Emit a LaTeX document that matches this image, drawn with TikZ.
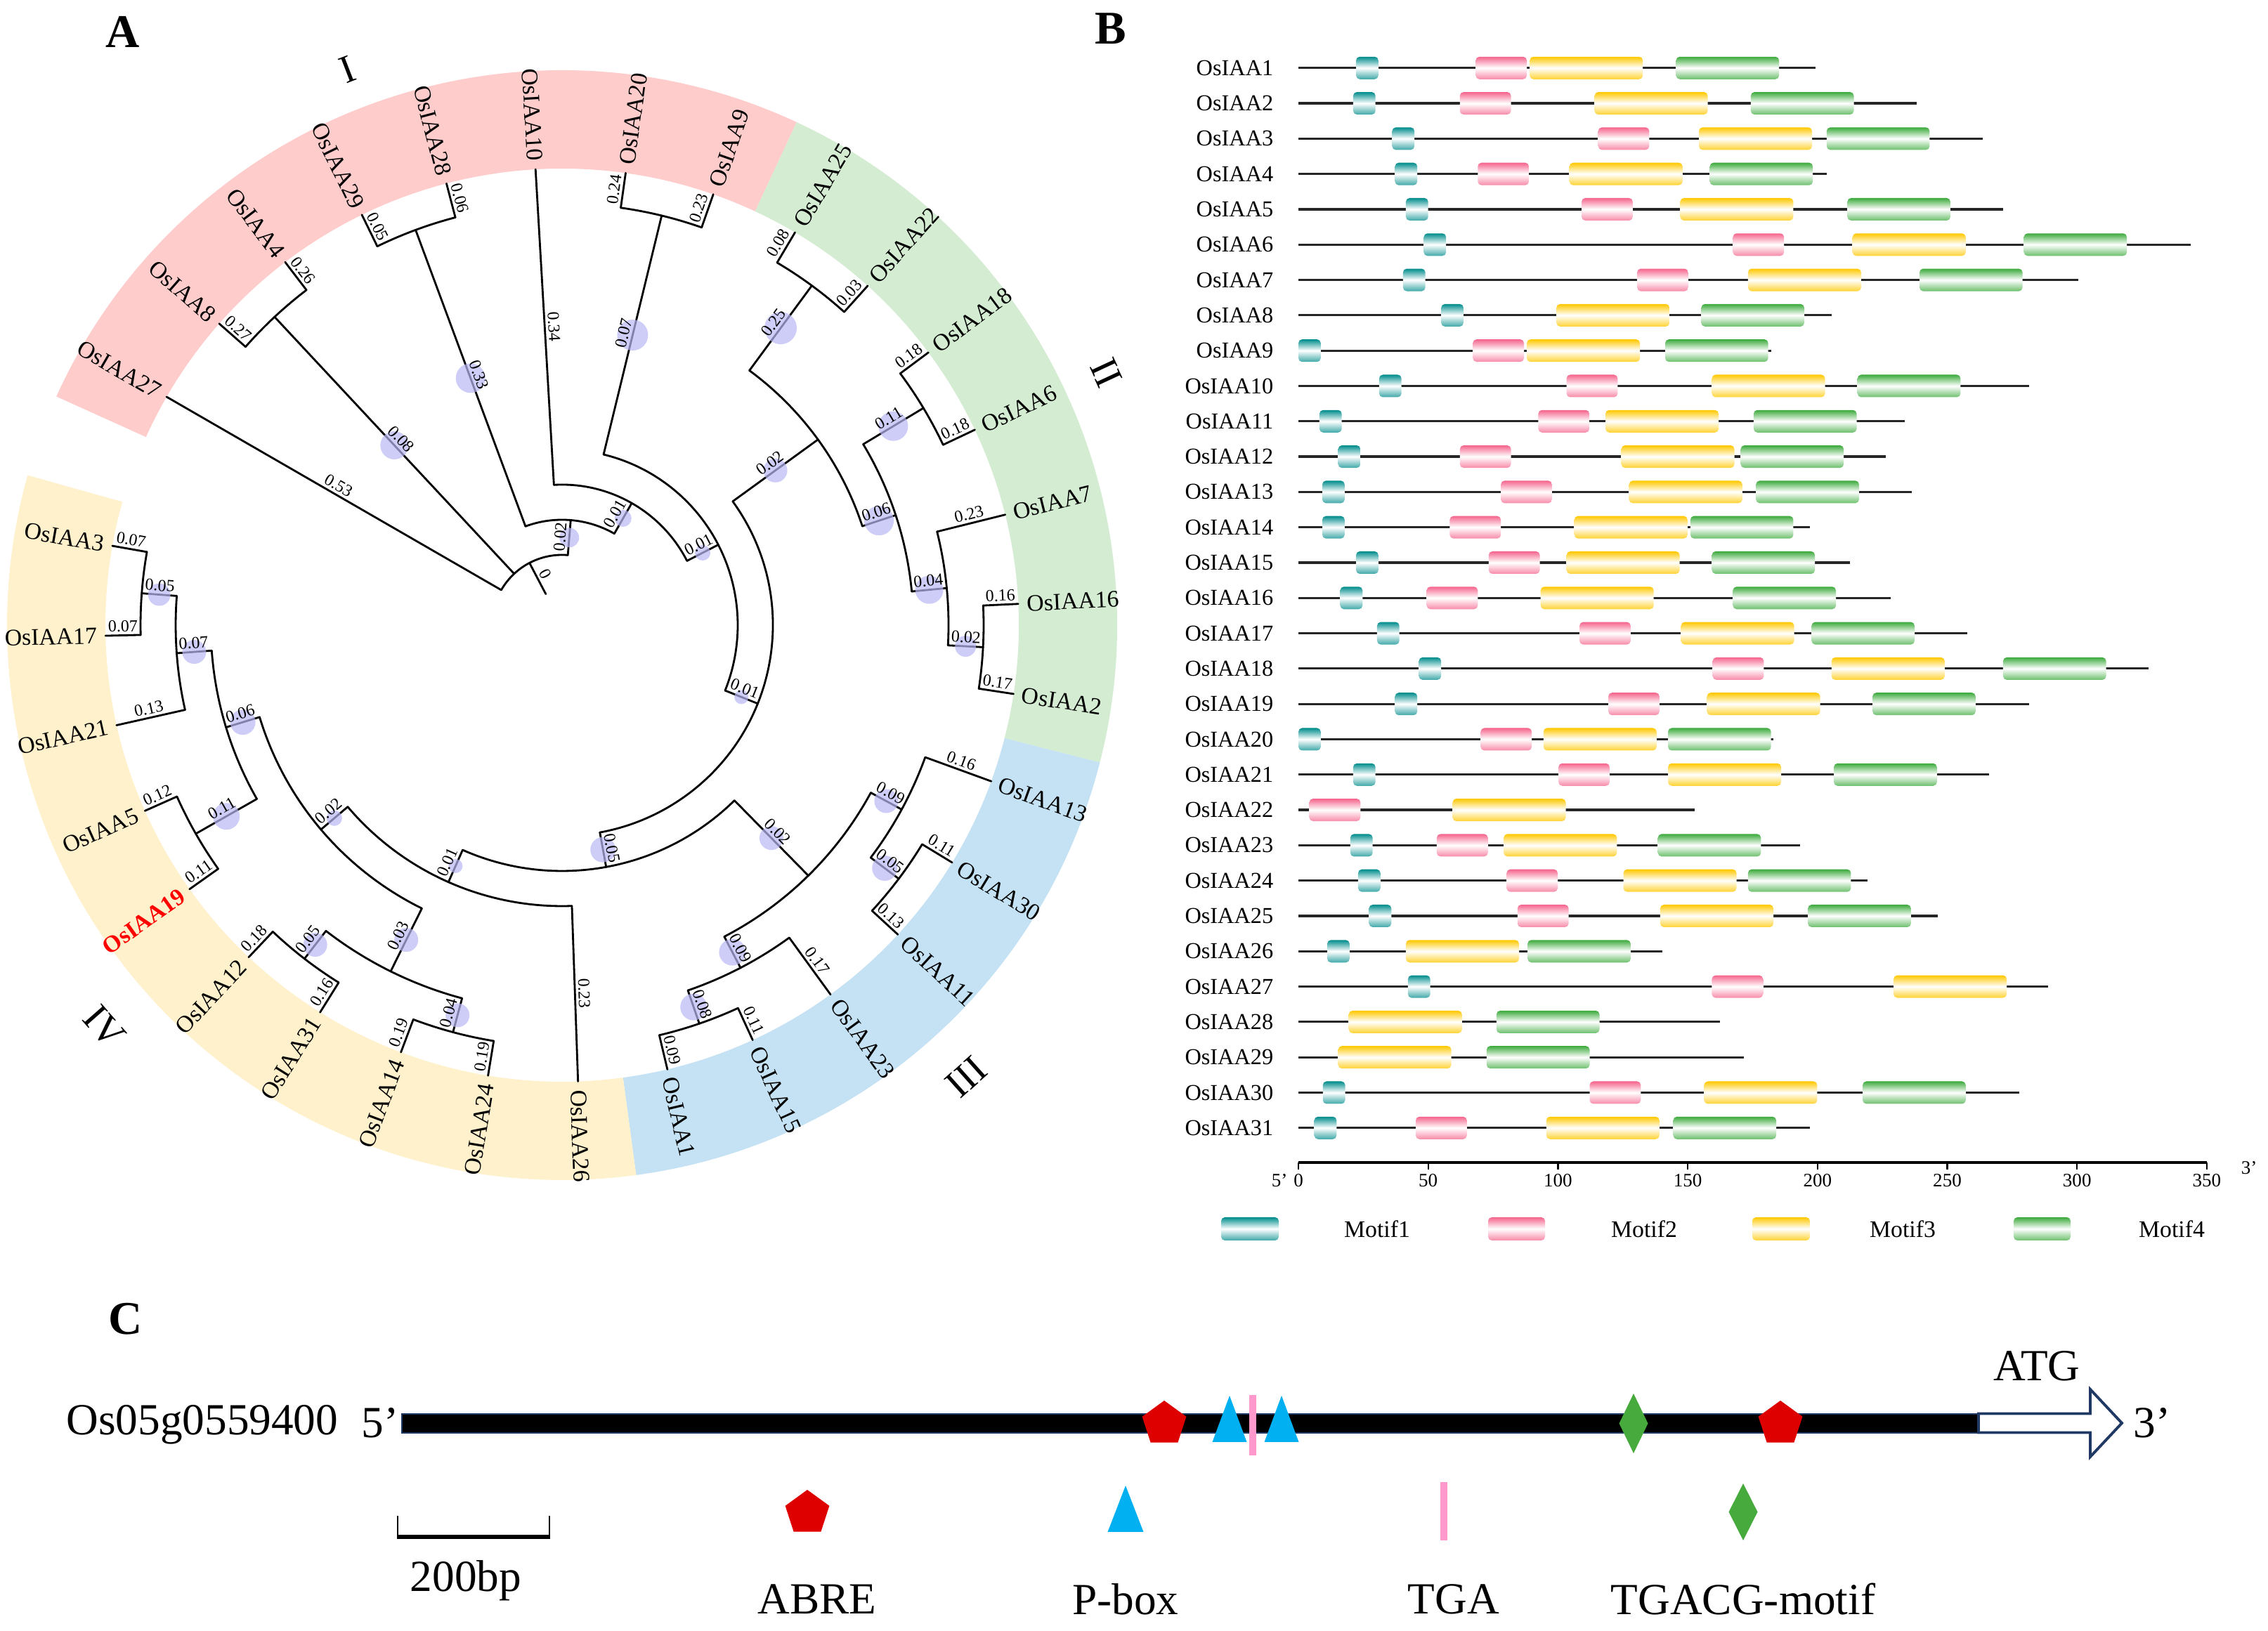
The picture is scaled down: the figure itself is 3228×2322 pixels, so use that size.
\documentclass[tikz,border=0pt]{standalone}
\usepackage{fontspec}
\setmainfont{Liberation Serif}
\usetikzlibrary{shapes.geometric}
\definecolor{bandI}{RGB}{255,204,204}
\definecolor{bandII}{RGB}{212,236,210}
\definecolor{bandIII}{RGB}{197,226,244}
\definecolor{bandIV}{RGB}{255,241,204}
\definecolor{circC}{RGB}{185,185,245}
\definecolor{cA}{RGB}{0,140,140}
\definecolor{cB}{RGB}{245,100,140}
\definecolor{cC}{RGB}{255,200,0}
\definecolor{cD}{RGB}{60,170,60}
\definecolor{redC}{RGB}{222,0,0}
\definecolor{cyanC}{RGB}{0,176,240}
\definecolor{pinkC}{RGB}{255,153,204}
\definecolor{greenC}{RGB}{70,170,60}
\definecolor{navyC}{RGB}{31,56,100}
\newcommand{\fsLeaf}{\fontsize{9.6}{11}\selectfont}
\newcommand{\fsBr}{\fontsize{6.8}{8}\selectfont}
\newcommand{\fsRow}{\fontsize{9.2}{10}\selectfont}
\newcommand{\fsLg}{\fontsize{9.6}{11}\selectfont}
\newcommand{\fsAx}{\fontsize{7.7}{9}\selectfont}
\newcommand{\fsCC}{\fontsize{18}{21}\selectfont}
\newcommand{\fsPan}{\fontsize{19}{22}\selectfont\bfseries}
\newcommand{\fsRom}{\fontsize{16}{19}\selectfont}
\def\brlist{100/150/650/0.53/0, 100/133/600/0.08/20, 100/85.309/150/0.02/14,%
600/138.667/650/0.27/0, 600/127.333/650/0.26/0,%
150/110.333/600/0.33/21, 150/60.285/200/0.01/12,%
600/116/650/0.05/0, 600/104.667/650/0.06/0,%
200/93.333/650/0.34/0, 200/27.237/250/0.01/11,%
250/76.333/600/0.07/22, 250/-21.859/300/0.01/10,%
600/82/650/0.24/0, 600/70.667/650/0.23/0,%
300/35.958/450/0.02/17, 300/-79.677/350/0.05/18,%
450/53.667/600/0.25/23, 450/18.25/500/0.06/21,%
600/59.333/650/0.08/0, 600/48/650/0.03/0,%
500/31/600/0.11/21, 500/5.5/550/0.04/20,%
600/36.667/650/0.18/0, 600/25.333/650/0.18/0,%
550/14/650/0.23/0, 550/-3/600/0.02/15,%
600/2.667/650/0.16/0, 600/-8.667/650/0.17/0,%
350/-45.5/500/0.02/17, 350/-113.854/400/0.01/10,%
500/-28.5/550/0.09/17, 500/-62.5/550/0.09/19,%
550/-20/650/0.16/0, 550/-37/600/0.05/18,%
600/-31.333/650/0.11/0, 600/-42.667/650/0.13/0,%
550/-54/650/0.17/0, 550/-71/600/0.08/19,%
600/-65.333/650/0.11/0, 600/-76.667/650/0.09/0,%
400/-88/650/0.23/0, 400/-139.708/450/0.02/11,%
450/-116.333/550/0.03/17, 450/-163.083/500/0.06/18,%
550/-105/600/0.04/17, 550/-127.667/600/0.05/17,%
600/-99.333/650/0.19/0, 600/-110.667/650/0.19/0,%
600/-122/650/0.16/0, 600/-133.333/650/0.18/0,%
500/-150.333/600/0.11/19, 500/-175.833/550/0.07/17,%
600/-144.667/650/0.11/0, 600/-156/650/0.12/0,%
550/-167.333/650/0.13/0, 550/-184.333/600/0.05/16,%
600/-178.667/650/0.07/0, 600/-190/650/0.07/0,%
50/117.655/100/0/0}
\def\arclist{100/150/85.309, 150/110.333/60.285, 200/93.333/27.237, 250/76.333/-21.859,%
300/35.958/-79.677, 350/-45.5/-113.854, 400/-88/-139.708, 450/-116.333/-163.083,%
500/-150.333/-175.833, 550/-167.333/-184.333, 600/-178.667/-190, 600/-144.667/-156,%
550/-105/-127.667, 600/-122/-133.333, 600/-99.333/-110.667, 500/-28.5/-62.5,%
550/-20/-37, 600/-31.333/-42.667, 550/-54/-71, 600/-65.333/-76.667,%
450/53.667/18.25, 600/59.333/48, 500/31/5.5, 600/36.667/25.333, 550/14/-3,%
600/2.667/-8.667, 600/82/70.667, 600/116/104.667, 600/138.667/127.333}
\begin{document}
\begin{tikzpicture}[x=0.01cm,y=0.01cm,
  br/.style={line width=0.8pt, black, line cap=round},
  blab/.style={midway, sloped, above, inner sep=1.2pt, font=\fsBr},
  circ/.style={fill=circC, fill opacity=0.7},
  leaf/.style={font=\fsLeaf, inner sep=1pt},
  rom/.style={font=\fsRom},
  pan/.style={font=\fsPan},
  rlab/.style={anchor=east, font=\fsRow, inner sep=0pt},
  bline/.style={line width=0.9pt, black!85},
  mA/.style={top color=cA, bottom color=cA!75, middle color=white, rounded corners=1.5pt},
  mB/.style={top color=cB, bottom color=cB!75, middle color=white, rounded corners=1.5pt},
  mC/.style={top color=cC, bottom color=cC!80, middle color=white, rounded corners=1.5pt},
  mD/.style={top color=cD, bottom color=cD!75, middle color=white, rounded corners=1.5pt},
  axl/.style={font=\fsAx, inner sep=0pt},
  lgt/.style={font=\fsLg, inner sep=0pt},
  txtC/.style={font=\fsCC, inner sep=0pt}]
\useasboundingbox (0,0) rectangle (3228,2322);
\fill[white] (0,0) rectangle (3228,2322);
% panel letters
\node[pan] (lblA) at (175,2277) {A};
\node[pan] (lblB) at (1581,2281) {B};
\node[pan] (lblC) at (179,444) {C};
% ---------------- Panel A ----------------
\begin{scope}[shift={(800,1432)}]
\fill[bandI] (155.667:650) arc[start angle=155.667, end angle=65, radius=650] -- (65:790) arc[start angle=65, end angle=155.667, radius=790] -- cycle;
\fill[bandII] (65:650) arc[start angle=65, end angle=-14.333, radius=650] -- (-14.333:790) arc[start angle=-14.333, end angle=65, radius=790] -- cycle;
\fill[bandIII] (-14.333:650) arc[start angle=-14.333, end angle=-82.333, radius=650] -- (-82.333:790) arc[start angle=-82.333, end angle=-14.333, radius=790] -- cycle;
\fill[bandIV] (-82.333:650) arc[start angle=-82.333, end angle=-195.667, radius=650] -- (-195.667:790) arc[start angle=-195.667, end angle=-82.333, radius=790] -- cycle;
\foreach \rr/\aa/\bb in \arclist {
  \draw[br] (\aa:\rr) arc[start angle=\aa, end angle=\bb, radius=\rr];
}
\foreach \pr/\ca/\cr/\lab/\cir in \brlist {
  \draw[br] (\ca:\pr) -- (\ca:\cr);
}
\foreach \pr/\ca/\cr/\lab/\cir in \brlist {
  \ifnum\cir>0 \fill[circ] (\ca:{(\pr+\cr)/2}) circle[radius=\cir]; \fi
}
\foreach \pr/\ca/\cr/\lab/\cir [count=\k] in \brlist {
  \path (\ca:\pr) -- (\ca:\cr) node[blab] (bl\k) {\lab};
}
\foreach \nm/\ag in {OsIAA20/82, OsIAA9/70.667, OsIAA25/59.333, OsIAA22/48, OsIAA18/36.667, OsIAA6/25.333, OsIAA7/14, OsIAA16/2.667, OsIAA2/-8.667, OsIAA13/-20, OsIAA30/-31.333, OsIAA11/-42.667, OsIAA23/-54, OsIAA15/-65.333, OsIAA1/-76.667, OsIAA26/-88} {
  \node[leaf, anchor=west, rotate=\ag] (lf\nm) at (\ag:658) {\nm};
}
\foreach \nm/\ag in {OsIAA27/150, OsIAA8/138.667, OsIAA4/127.333, OsIAA29/116, OsIAA28/104.667, OsIAA10/93.333, OsIAA24/-99.333, OsIAA14/-110.667, OsIAA31/-122, OsIAA12/-133.333, OsIAA5/-156, OsIAA21/-167.333, OsIAA17/-178.667, OsIAA3/-190} {
  \node[leaf, anchor=east, rotate=\ag+180] (lf\nm) at (\ag:658) {\nm};
}
\node[leaf, anchor=east, rotate=35.333, text=red, font=\fsLeaf\bfseries] (lfOsIAA19) at (-144.667:658) {OsIAA19};
\node[rom, rotate=21.1] (romI) at (111.1:848) {I};
\node[rom, rotate=-65.1] (romII) at (24.9:854) {II};
\node[rom, rotate=41.8] (romIII) at (-48.2:863) {III};
\node[rom, rotate=-48.7] (romIV) at (-138.7:867) {IV};
\end{scope}
% ---------------- Panel B ----------------
\foreach \i/\nm/\en/\ma/\mb/\mc/\md in {
 1/OsIAA1/199.3/22.2/68.3/89.1/145.5, 2/OsIAA2/238.2/21.1/62.2/114.1/174.3,
 3/OsIAA3/263.7/36.1/115.5/154.3/203.5, 4/OsIAA4/203.5/37.2/69.1/104.4/158.5,
 5/OsIAA5/271.5/41.4/109.1/147.1/211.5, 6/OsIAA6/343.7/48.3/167.4/213.5/279.5,
 7/OsIAA7/300.6/40.3/130.5/173.2/239.3, 8/OsIAA8/205.4/55.0/-1/99.4/155.2,
 9/OsIAA9/182.1/0/67.2/88.0/141.3, 10/OsIAA10/281.5/31.1/103.3/159.3/215.4,
 11/OsIAA11/233.5/8.1/92.4/118.3/175.4, 12/OsIAA12/226.2/15.3/62.2/124.4/170.4,
 13/OsIAA13/236.2/9.2/78.0/127.4/176.3, 14/OsIAA14/197.1/9.2/58.3/106.3/151.0,
 15/OsIAA15/212.4/22.2/73.3/103.3/159.3, 16/OsIAA16/228.2/16.1/49.4/93.3/167.4,
 17/OsIAA17/257.6/30.3/108.3/147.4/197.7, 18/OsIAA18/327.6/46.4/159.6/205.4/271.5,
 19/OsIAA19/281.5/37.2/119.4/157.4/221.2, 20/OsIAA20/182.9/0/70.2/94.4/142.4,
 21/OsIAA21/266.2/21.1/100.2/142.4/206.3, 22/OsIAA22/152.7/-1/4.2/59.4/-1,
 23/OsIAA23/193.2/20.0/53.3/79.1/138.5, 24/OsIAA24/219.3/23.0/80.2/125.2/173.2,
 25/OsIAA25/246.2/27.2/84.4/139.4/196.3, 26/OsIAA26/140.2/11.1/-1/41.4/88.3,
 27/OsIAA27/288.7/42.2/159.3/229.3/-1, 28/OsIAA28/162.4/-1/-1/19.4/76.3,
 29/OsIAA29/171.6/-1/-1/15.3/72.5, 30/OsIAA30/277.6/9.4/112.2/156.3/217.4,
 31/OsIAA31/197.1/6.1/45.2/95.5/144.4} {
  \pgfmathsetmacro{\yy}{2225.2-(\i-1)*50.3}
  \node[rlab] (row\i) at (1813,\yy) {\nm};
  \draw[bline] (1848,\yy) -- ({1848+\en*3.694},\yy);
  \ifdim\ma pt>-0.5pt \shade[mA] ({1848+\ma*3.694},{\yy-16}) rectangle ({1848+(\ma+8.6)*3.694},{\yy+16}); \fi
  \ifdim\mb pt>-0.5pt \shade[mB] ({1848+\mb*3.694},{\yy-16}) rectangle ({1848+(\mb+19.7)*3.694},{\yy+16}); \fi
  \ifdim\mc pt>-0.5pt \shade[mC] ({1848+\mc*3.694},{\yy-16}) rectangle ({1848+(\mc+43.6)*3.694},{\yy+16}); \fi
  \ifdim\md pt>-0.5pt \shade[mD] ({1848+\md*3.694},{\yy-16}) rectangle ({1848+(\md+39.7)*3.694},{\yy+16}); \fi
}
% axis
\draw[line width=1.1pt] (1848,667) -- (3141,667);
\foreach \t [count=\k] in {0,50,...,350} {
  \draw[line width=0.7pt] ({1848+\t*3.694},667) -- ({1848+\t*3.694},657);
  \node[axl] (tk\k) at ({1848+\t*3.694},641) {\t};
}
\node[axl] (ax5) at (1821,641) {5’};
\node[axl] (ax3) at (3201,659) {3’};
% legend
\shade[mA] (1738,556) rectangle (1820,589);
\node[lgt] (lg1) at (1960,572) {Motif1};
\shade[mB] (2118,556) rectangle (2199,589);
\node[lgt] (lg2) at (2340,572) {Motif2};
\shade[mC] (2494,556) rectangle (2576,589);
\node[lgt] (lg3) at (2708,572) {Motif3};
\shade[mD] (2866,556) rectangle (2947,589);
\node[lgt] (lg4) at (3091,572) {Motif4};
% ---------------- Panel C ----------------
\node[txtC, anchor=east] (gname) at (482,294) {Os05g0559400};
\node[txtC] (p5) at (541,296) {5’};
\filldraw[fill=black, draw=navyC, line width=0.8pt] (572,282) rectangle (2816,309);
\draw[draw=navyC, fill=white, line width=1.1pt] (2816,282.5) -- (2975,282.5) -- (2975,248) -- (3020,296) -- (2975,344) -- (2975,309.5) -- (2816,309.5) -- cycle;
\node[txtC] (atg) at (2899,377) {ATG};
\node[txtC] (p3) at (3063,296) {3’};
% elements on promoter
\fill[redC, shift={(1657,295)}] (90:33) -- (162:33) -- (234:33) -- (306:33) -- (18:33) -- cycle;
\fill[cyanC] (1725.5,269) -- (1774.5,269) -- (1750,335) -- cycle;
\fill[cyanC] (1799.5,269) -- (1848.5,269) -- (1824,335) -- cycle;
\fill[pinkC] (1778,250) rectangle (1788,336);
\fill[greenC] (2325,253) -- (2345.5,295.5) -- (2325,338) -- (2304.5,295.5) -- cycle;
\fill[redC, shift={(2534,295)}] (90:33) -- (162:33) -- (234:33) -- (306:33) -- (18:33) -- cycle;
% scale bar
\draw[line width=0.8pt] (566,164) -- (566,134);
\draw[line width=0.8pt] (782,164) -- (782,134);
\draw[line width=1.8pt] (565,134) -- (783,134);
\node[txtC] (sbar) at (663,72) {200bp};
% legend symbols
\fill[redC, shift={(1149,168)}] (90:33) -- (162:33) -- (234:33) -- (306:33) -- (18:33) -- cycle;
\fill[cyanC] (1576.5,141) -- (1627.5,141) -- (1602,207) -- cycle;
\fill[pinkC] (2050,129) rectangle (2060,212);
\fill[greenC] (2481,129) -- (2501.5,169.5) -- (2481,210) -- (2460.5,169.5) -- cycle;
\node[txtC] (tABRE) at (1163,45) {ABRE};
\node[txtC] (tPbox) at (1602,45) {P-box};
\node[txtC] (tTGA) at (2069,45) {TGA};
\node[txtC] (tTGACG) at (2481,45) {TGACG-motif};
\end{tikzpicture}
\end{document}
